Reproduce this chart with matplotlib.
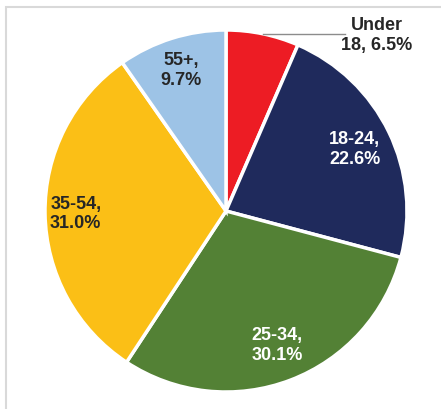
import numpy as np
import matplotlib.pyplot as plt

# age groups and shares (%)
groups = ["Under 18", "18-24", "25-34", "35-54", "55+"]
shares = [6.5, 22.6, 30.1, 31.0, 9.7]
label_text = ["Under\n18, 6.5%", "18-24,\n22.6%", "25-34,\n30.1%", "35-54,\n31.0%", "55+,\n9.7%"]

colors = ["#ED1C24", "#1F2A5C", "#538135", "#FBBF16", "#9DC3E6"]
text_colors = ["#262626", "white", "white", "#262626", "#262626"]

W, H = 441, 410
fig = plt.figure(figsize=(W / 100, H / 100), dpi=100)
ax = fig.add_axes([0, 0, 1, 1])

cx, cy, r = 226, 198, 181
wedges, _ = ax.pie(shares, colors=colors, startangle=90, counterclock=False,
                   center=(cx, cy), radius=r, frame=True,
                   wedgeprops=dict(edgecolor="white", linewidth=2.5))
ax.set_xlim(0, W)
ax.set_ylim(0, H)
ax.set_aspect("equal")
ax.axis("off")

font = dict(family=["Liberation Sans", "DejaVu Sans"], fontsize=13,
            fontweight="bold", ha="center", va="center", linespacing=1.2)

dist = [None, 0.79, 0.79, 0.83, 0.82]
for i, w in enumerate(wedges):
    ang = np.deg2rad((w.theta1 + w.theta2) / 2)
    if i == 0:
        # outside label with leader line
        px, py = cx + r * np.cos(ang), cy + r * np.sin(ang)
        ax.plot([px, 345], [py, py], color="#8C8C8C", lw=1)
        ax.text(377, py - 1, label_text[i], color=text_colors[i], **font)
    else:
        x = cx + dist[i] * r * np.cos(ang)
        y = cy + dist[i] * r * np.sin(ang)
        ax.text(x, y, label_text[i], color=text_colors[i], **font)

# chart frame (only top and left edges visible)
ax.plot([6, 6, W], [0, H - 8, H - 8], color="#D9D9D9", lw=1.5, solid_joinstyle="miter")

fig.savefig("out.png", dpi=100)
